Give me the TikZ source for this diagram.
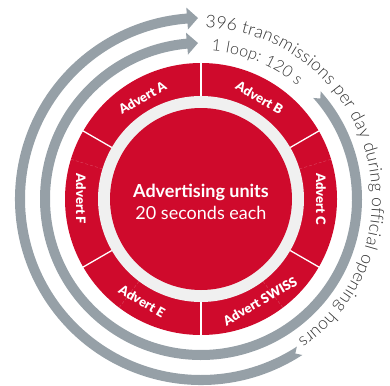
\documentclass[tikz,border=0pt]{standalone}
\usepackage{fontspec}
\setmainfont{Lato}
\newfontfamily\lightfont{Lato Light}
\newfontfamily\heavyfont{Lato Black}
\usetikzlibrary{decorations.text}
\definecolor{advred}{HTML}{CF0A2C}
\definecolor{ringgray}{HTML}{F0F0F0}
\definecolor{bandgray}{HTML}{96A0A7}
\definecolor{txtgray}{HTML}{333333}
\tikzset{
  advlabel/.style={text=white, font=\heavyfont\fontsize{13}{15}\selectfont, inner sep=0pt},
  divider/.style={white, line width=1.3pt},
  faintline/.style={white, opacity=.25, line width=.4pt, densely dashed},
  band/.style={fill=bandgray},
}
\begin{document}
\begin{tikzpicture}
\useasboundingbox (0,0) rectangle (390pt,-385pt);
\begin{scope}[shift={(201pt,-199pt)}]
  % gray loop bands
  \fill[band] (-57:186pt) arc[start angle=-57, end angle=-265.6, radius=186pt]
    -- (-265.6:192pt) -- (-269.05:181pt) -- (-265.6:170pt) -- (-265.6:176pt)
    arc[start angle=-265.6, end angle=-57, radius=176pt] -- (-58.6:181pt) -- cycle;
  \fill[band] (42:161pt) arc[start angle=42, end angle=-264.85, radius=161pt]
    -- (-264.85:167pt) -- (-268.9:156pt) -- (-264.85:145pt) -- (-264.85:151pt)
    arc[start angle=-264.85, end angle=42, radius=151pt] -- (40.1:156pt) -- cycle;
  % arc texts
  \path[decorate, decoration={text along path, text color=txtgray,
      text={|\lightfont\fontsize{17.5}{21}\selectfont|396 transmissions per day during official opening hours},
      text align=fit to path}]
    (88.5:171pt) arc[start angle=88.5, end angle=-55.5, radius=171pt];
  \path[decorate, decoration={text along path, text color=txtgray,
      text={|\lightfont\fontsize{16}{19}\selectfont|1 loop: 120 s},
      text align=fit to path}]
    (86:148.5pt) arc[start angle=86, end angle=49.5, radius=148.5pt];
  % disk
  \fill[advred] (0,0) circle[radius=136pt];
  \fill[ringgray] (0,0) circle[radius=103pt];
  \fill[advred] (0,0) circle[radius=91pt];
  \foreach \a in {90,30,-30,-90,-150,150}
    \draw[divider] (\a:103pt) -- (\a:136.5pt);
  \foreach \a in {17,163,-53,-127}
    \draw[faintline] (\a:103pt) -- (\a:136pt);
  % segment labels
  \node[advlabel, rotate=30]  (advA) at (120:117pt) {Advert A};
  \node[advlabel, rotate=-30] (advB) at (60:117pt)  {Advert B};
  \node[advlabel, rotate=-90] (advC) at (0:120pt)   {Advert C};
  \node[advlabel, rotate=30]  (advS) at (-60:118pt) {Advert SWISS};
  \node[advlabel, rotate=-30] (advE) at (-120:118pt){Advert E};
  \node[advlabel, rotate=-90] (advF) at (180:120pt) {Advert F};
  % centre
  \node[text=white, align=center, font=\fontsize{18}{22}\selectfont] (units) at (0,-3pt)
    {\bfseries Advertising units\\20 seconds each};
\end{scope}
\end{tikzpicture}
\end{document}
